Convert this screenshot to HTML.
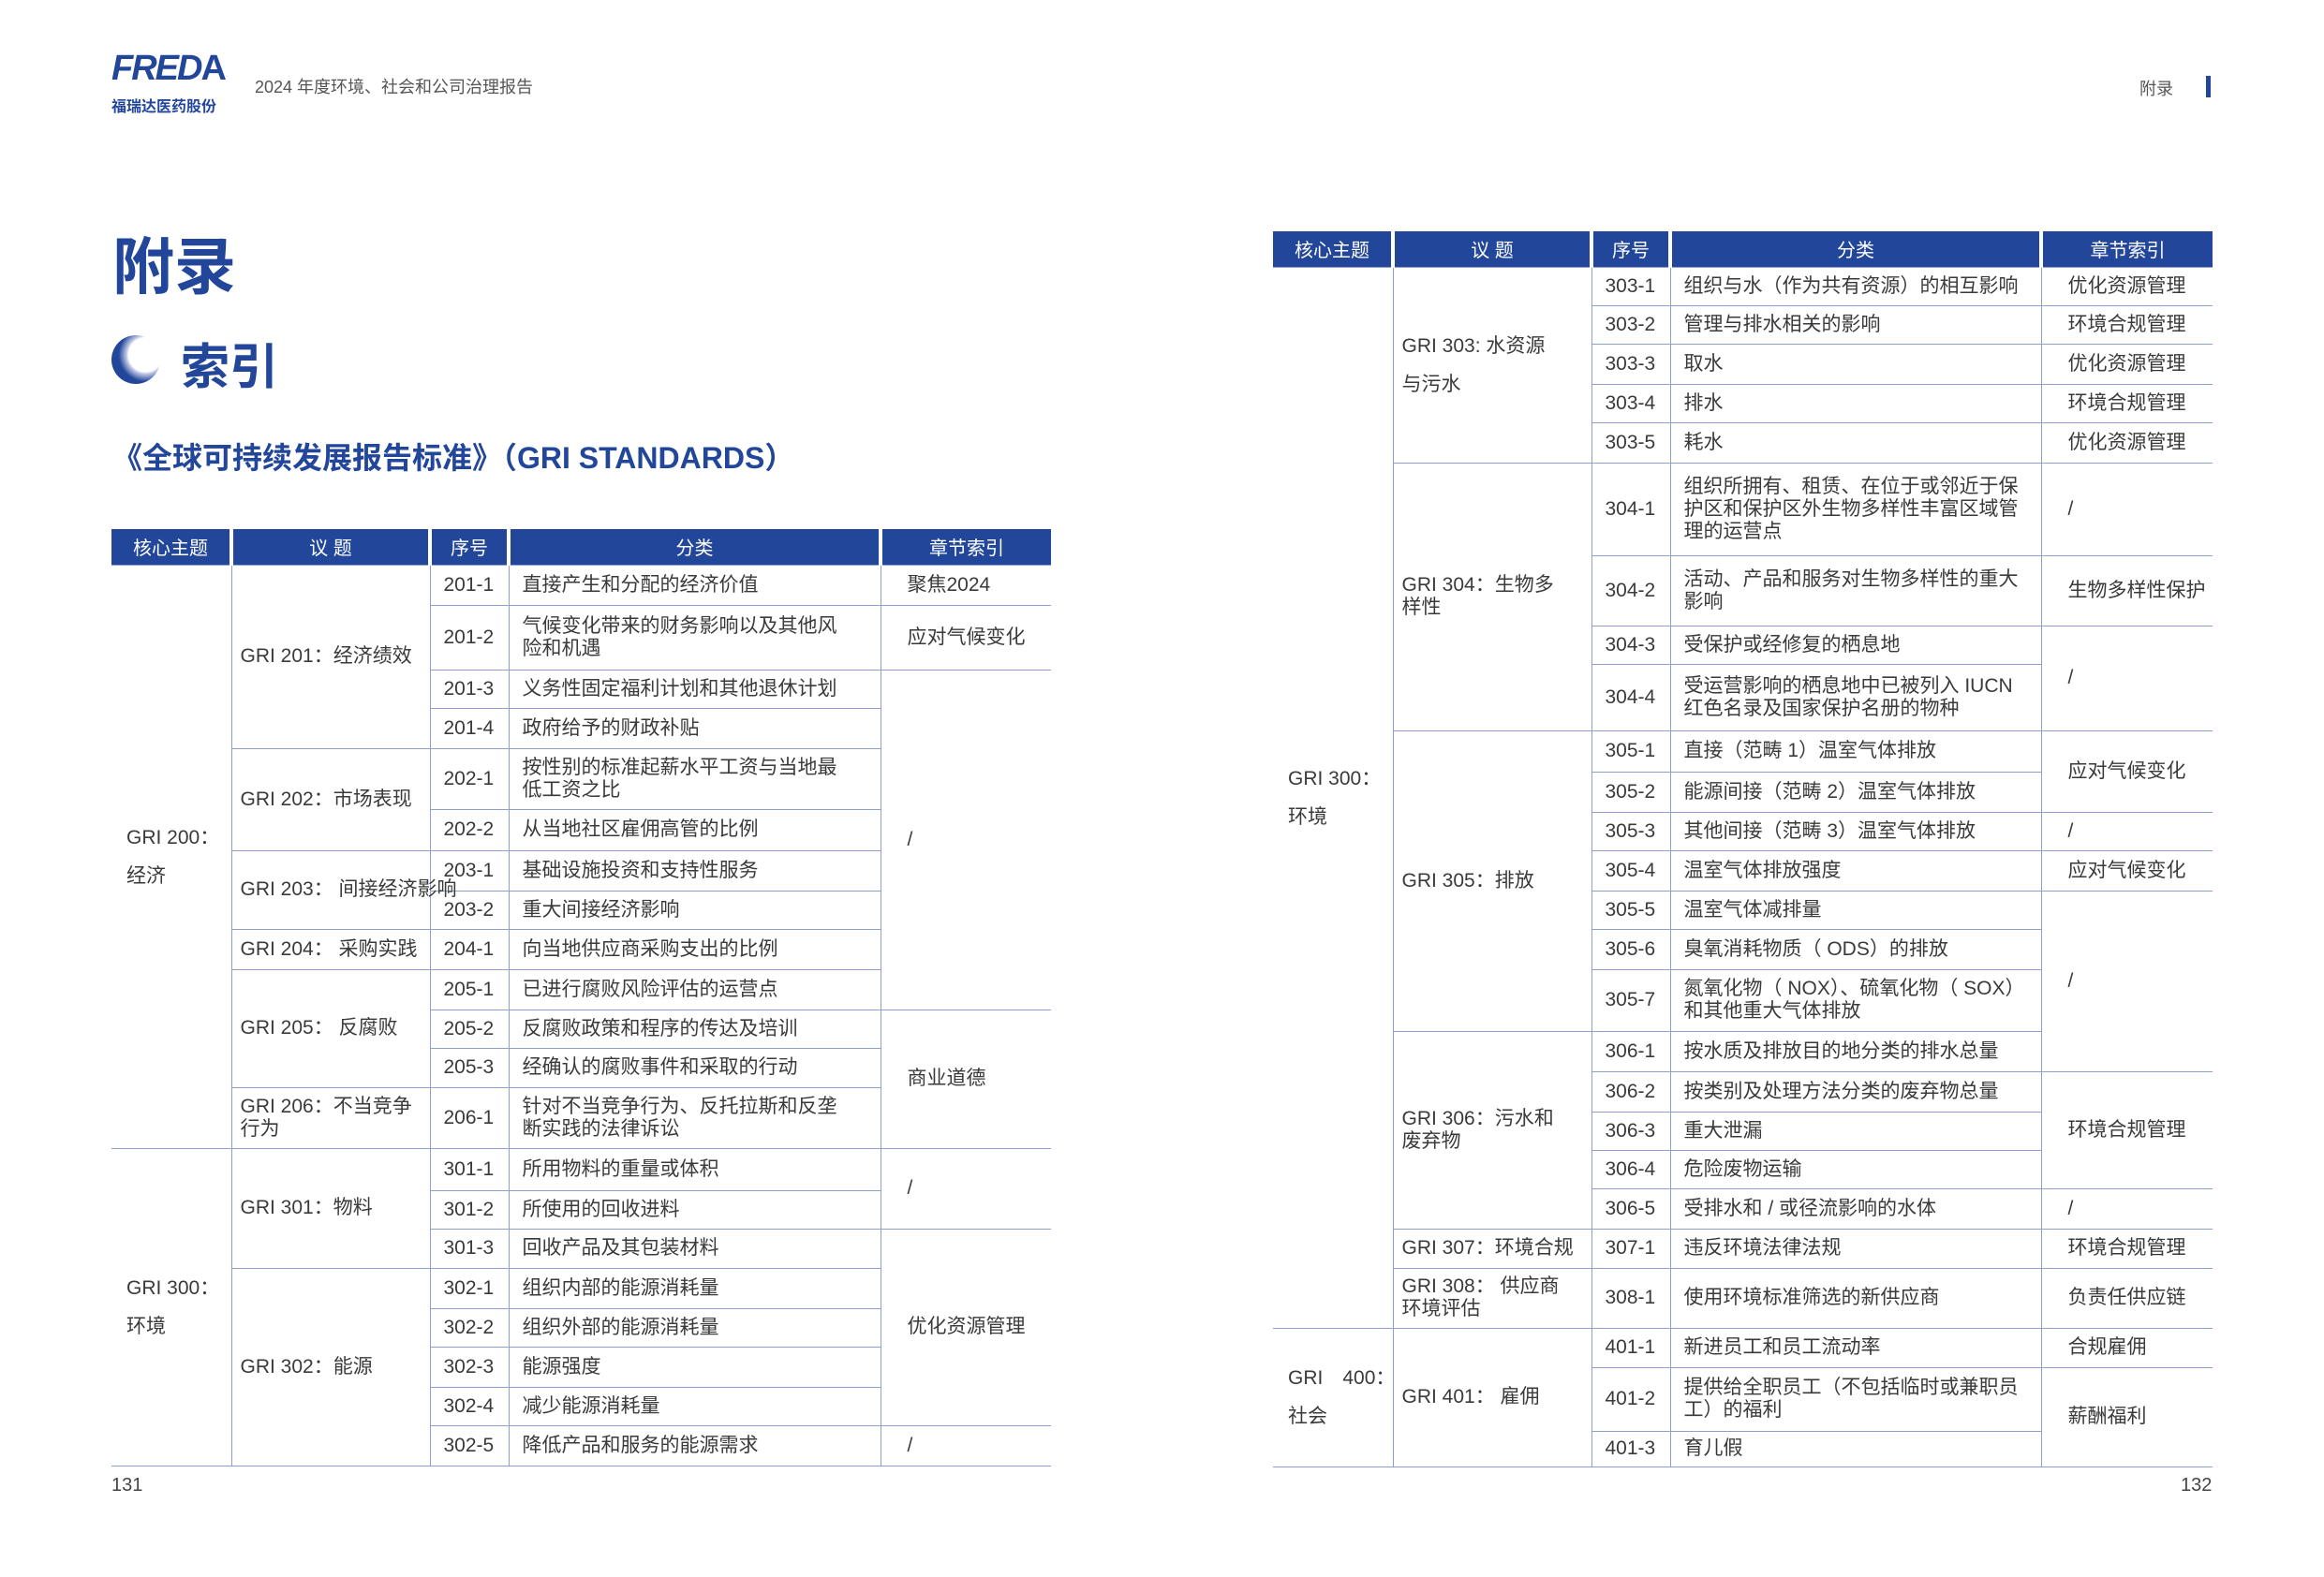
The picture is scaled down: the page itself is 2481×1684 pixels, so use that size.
<!DOCTYPE html>
<html><head><meta charset="utf-8"><style>
*{margin:0;padding:0;box-sizing:border-box}
body{width:2481px;height:1684px;background:#fff;position:relative;overflow:hidden;font-family:"Liberation Sans","Noto Sans CJK SC",sans-serif;color:#3a3a3a}
.abs{position:absolute}
table{position:absolute;border-collapse:collapse;table-layout:fixed;font-size:21px}
th{background:#22469a;color:#fff;font-weight:normal;font-size:20px;border-left:4px solid #fff;text-align:center;height:38px}
th:first-child{border-left:none}
td{border:1.5px solid #8ea0cf;line-height:24px;vertical-align:middle}
td:first-child{border-left:none}
tr td:last-child{border-right:none}
td.c{padding-left:16px;line-height:41px;white-space:nowrap}
td.t{padding-left:9px}
td.t2{padding-left:9px;line-height:41px}
td.s{padding-left:14px}
td.f{padding-left:14px;padding-right:30px}
#rt td.f{padding-right:8px}
td.z{padding-left:28px}
.nw{white-space:nowrap;overflow:visible}
</style></head><body>
<div class="abs" style="left:119px;top:52px;color:#22469a;font-weight:bold;font-size:38px;letter-spacing:-2px;font-style:italic">FRED<span style="font-style:normal">A</span></div>
<div class="abs" style="left:119px;top:100px;color:#22469a;font-weight:bold;font-size:16px">福瑞达医药股份</div>
<div class="abs" style="left:272px;top:79px;font-size:18px;color:#555">2024 年度环境、社会和公司治理报告</div>
<div class="abs" style="left:2284px;top:81px;font-size:18px;color:#555">附录</div>
<div class="abs" style="left:2355px;top:81px;width:5px;height:23px;background:#22469a"></div>
<div class="abs" style="left:120px;top:232px;font-size:66px;font-weight:bold;color:#22469a">附录</div>
<div class="abs" style="left:119px;top:358px;width:52px;height:52px;border-radius:50%;background:radial-gradient(circle at 70% 40%,#fff 0 38%,#c8cde8 42%,#22469a 60%)"></div>
<div class="abs" style="left:193px;top:350px;font-size:52px;font-weight:bold;color:#22469a">索引</div>
<div class="abs" style="left:120px;top:464px;font-size:32px;font-weight:bold;color:#22469a">《全球可持续发展报告标准》（GRI STANDARDS）</div>
<div class="abs" style="left:119px;top:1575px;font-size:20px;color:#444">131</div>
<div class="abs" style="left:2328px;top:1575px;font-size:20px;color:#444">132</div>

<table style="left:119px;top:565px;width:1003px">
<colgroup><col style="width:128px"><col style="width:212px"><col style="width:84px"><col style="width:397px"><col style="width:182px"></colgroup>
<tr><th>核心主题</th><th>议 题</th><th>序号</th><th>分类</th><th>章节索引</th></tr>
<tr style="height:43px"><td class="c" rowspan="13">GRI 200：<br>经济</td><td class="t" rowspan="4">GRI 201：经济绩效</td><td class="s">201-1</td><td class="f">直接产生和分配的经济价值</td><td class="z">聚焦2024</td></tr>
<tr style="height:69px"><td class="s">201-2</td><td class="f">气候变化带来的财务影响以及其他风险和机遇</td><td class="z">应对气候变化</td></tr>
<tr style="height:41px"><td class="s">201-3</td><td class="f">义务性固定福利计划和其他退休计划</td><td class="z" rowspan="8">/</td></tr>
<tr style="height:43px"><td class="s">201-4</td><td class="f">政府给予的财政补贴</td></tr>
<tr style="height:65px"><td class="t" rowspan="2">GRI 202：市场表现</td><td class="s">202-1</td><td class="f">按性别的标准起薪水平工资与当地最低工资之比</td></tr>
<tr style="height:44px"><td class="s">202-2</td><td class="f">从当地社区雇佣高管的比例</td></tr>
<tr style="height:43px"><td class="t nw" rowspan="2">GRI 203： 间接经济影响</td><td class="s">203-1</td><td class="f">基础设施投资和支持性服务</td></tr>
<tr style="height:41px"><td class="s">203-2</td><td class="f">重大间接经济影响</td></tr>
<tr style="height:43px"><td class="t">GRI 204： 采购实践</td><td class="s">204-1</td><td class="f">向当地供应商采购支出的比例</td></tr>
<tr style="height:43px"><td class="t" rowspan="3">GRI 205： 反腐败</td><td class="s">205-1</td><td class="f">已进行腐败风险评估的运营点</td></tr>
<tr style="height:41px"><td class="s">205-2</td><td class="f">反腐败政策和程序的传达及培训</td><td class="z" rowspan="3">商业道德</td></tr>
<tr style="height:42px"><td class="s">205-3</td><td class="f">经确认的腐败事件和采取的行动</td></tr>
<tr style="height:65px"><td class="t">GRI 206：不当竞争行为</td><td class="s">206-1</td><td class="f">针对不当竞争行为、反托拉斯和反垄断实践的法律诉讼</td></tr>
<tr style="height:45px"><td class="c" rowspan="8">GRI 300：<br>环境</td><td class="t" rowspan="3">GRI 301：物料</td><td class="s">301-1</td><td class="f">所用物料的重量或体积</td><td class="z" rowspan="2">/</td></tr>
<tr style="height:41px"><td class="s">301-2</td><td class="f">所使用的回收进料</td></tr>
<tr style="height:42px"><td class="s">301-3</td><td class="f">回收产品及其包装材料</td><td class="z" rowspan="5">优化资源管理</td></tr>
<tr style="height:43px"><td class="t" rowspan="5">GRI 302：能源</td><td class="s">302-1</td><td class="f">组织内部的能源消耗量</td></tr>
<tr style="height:41px"><td class="s">302-2</td><td class="f">组织外部的能源消耗量</td></tr>
<tr style="height:43px"><td class="s">302-3</td><td class="f">能源强度</td></tr>
<tr style="height:41px"><td class="s">302-4</td><td class="f">减少能源消耗量</td></tr>
<tr style="height:43px"><td class="s">302-5</td><td class="f">降低产品和服务的能源需求</td><td class="z">/</td></tr>
</table>

<table id="rt" style="left:1359px;top:247px;width:1003px">
<colgroup><col style="width:128px"><col style="width:212px"><col style="width:84px"><col style="width:396px"><col style="width:183px"></colgroup>
<tr><th>核心主题</th><th>议 题</th><th>序号</th><th>分类</th><th>章节索引</th></tr>
<tr style="height:41px"><td class="c" rowspan="23">GRI 300：<br>环境</td><td class="t2" rowspan="5">GRI 303: 水资源<br>与污水</td><td class="s">303-1</td><td class="f">组织与水（作为共有资源）的相互影响</td><td class="z">优化资源管理</td></tr>
<tr style="height:41px"><td class="s">303-2</td><td class="f">管理与排水相关的影响</td><td class="z">环境合规管理</td></tr>
<tr style="height:43px"><td class="s">303-3</td><td class="f">取水</td><td class="z">优化资源管理</td></tr>
<tr style="height:41px"><td class="s">303-4</td><td class="f">排水</td><td class="z">环境合规管理</td></tr>
<tr style="height:43px"><td class="s">303-5</td><td class="f">耗水</td><td class="z">优化资源管理</td></tr>
<tr style="height:99px"><td class="t" rowspan="4" style="padding-right:20px">GRI 304：生物多样性</td><td class="s">304-1</td><td class="f">组织所拥有、租赁、在位于或邻近于保护区和保护区外生物多样性丰富区域管理的运营点</td><td class="z">/</td></tr>
<tr style="height:75px"><td class="s">304-2</td><td class="f">活动、产品和服务对生物多样性的重大影响</td><td class="z">生物多样性保护</td></tr>
<tr style="height:41px"><td class="s">304-3</td><td class="f">受保护或经修复的栖息地</td><td class="z" rowspan="2">/</td></tr>
<tr style="height:71px"><td class="s">304-4</td><td class="f">受运营影响的栖息地中已被列入 IUCN 红色名录及国家保护名册的物种</td></tr>
<tr style="height:44px"><td class="t" rowspan="7">GRI 305：排放</td><td class="s">305-1</td><td class="f">直接（范畴 1）温室气体排放</td><td class="z" rowspan="2">应对气候变化</td></tr>
<tr style="height:43px"><td class="s">305-2</td><td class="f">能源间接（范畴 2）温室气体排放</td></tr>
<tr style="height:41px"><td class="s">305-3</td><td class="f">其他间接（范畴 3）温室气体排放</td><td class="z">/</td></tr>
<tr style="height:43px"><td class="s">305-4</td><td class="f">温室气体排放强度</td><td class="z">应对气候变化</td></tr>
<tr style="height:41px"><td class="s">305-5</td><td class="f">温室气体减排量</td><td class="z" rowspan="4">/</td></tr>
<tr style="height:43px"><td class="s">305-6</td><td class="f">臭氧消耗物质（ ODS）的排放</td></tr>
<tr style="height:66px"><td class="s">305-7</td><td class="f">氮氧化物（ NOX）、硫氧化物（ SOX）和其他重大气体排放</td></tr>
<tr style="height:43px"><td class="t" rowspan="5" style="padding-right:20px">GRI 306：污水和废弃物</td><td class="s">306-1</td><td class="f">按水质及排放目的地分类的排水总量</td></tr>
<tr style="height:43px"><td class="s">306-2</td><td class="f">按类别及处理方法分类的废弃物总量</td><td class="z" rowspan="3">环境合规管理</td></tr>
<tr style="height:41px"><td class="s">306-3</td><td class="f">重大泄漏</td></tr>
<tr style="height:41px"><td class="s">306-4</td><td class="f">危险废物运输</td></tr>
<tr style="height:43px"><td class="s">306-5</td><td class="f">受排水和 / 或径流影响的水体</td><td class="z">/</td></tr>
<tr style="height:42px"><td class="t nw">GRI 307：环境合规</td><td class="s">307-1</td><td class="f">违反环境法律法规</td><td class="z">环境合规管理</td></tr>
<tr style="height:64px"><td class="t" style="padding-right:20px">GRI 308： 供应商环境评估</td><td class="s">308-1</td><td class="f">使用环境标准筛选的新供应商</td><td class="z">负责任供应链</td></tr>
<tr style="height:42px"><td class="c" rowspan="3">GRI　400：<br>社会</td><td class="t" rowspan="3">GRI 401： 雇佣</td><td class="s">401-1</td><td class="f">新进员工和员工流动率</td><td class="z">合规雇佣</td></tr>
<tr style="height:68px"><td class="s">401-2</td><td class="f">提供给全职员工（不包括临时或兼职员工）的福利</td><td class="z" rowspan="2">薪酬福利</td></tr>
<tr style="height:38px"><td class="s">401-3</td><td class="f">育儿假</td></tr>
</table>
</body></html>
